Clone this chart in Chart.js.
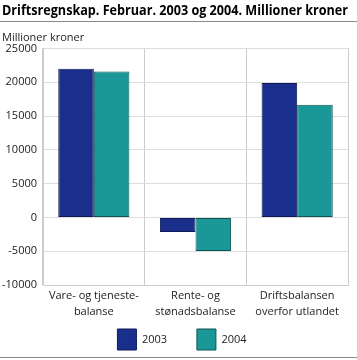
<!DOCTYPE html>
<html><head><meta charset="utf-8">
<script src="https://cdn.jsdelivr.net/npm/chart.js@4"></script>
<style>html,body{margin:0;padding:0;background:#fff}#wrap{width:357px;height:360px}</style>
</head><body><div id="wrap"><canvas id="c" width="357" height="360"></canvas></div>
<script>
const categories = [["Vare- og tjeneste-","balanse"],["Rente- og","stønadsbalanse"],["Driftsbalansen","overfor utlandet"]];
const series2003 = [22000, -2150, 19900];
const series2004 = [21600, -4950, 16650];
const seriesNames = ["2003","2004"];
const titleText = "Driftsregnskap. Februar. 2003 og 2004. Millioner kroner";
const unitText = "Millioner kroner";
const FONT = "'Open Sans', sans-serif";

const deco = {
  id:'deco',
  afterLayout(chart){
    if (chart.legend) { chart.legend.left += 14; }
  },
  afterDraw(chart){
    const ctx = chart.ctx;
    ctx.save();
    ctx.strokeStyle = '#8a8a8a';
    ctx.lineWidth = 1;
    ctx.beginPath(); ctx.moveTo(0,21.5); ctx.lineTo(357,21.5); ctx.stroke();
    ctx.beginPath(); ctx.moveTo(0,357.5); ctx.lineTo(357,357.5); ctx.stroke();
    ctx.restore();
  }
};

new Chart(document.getElementById('c'), {
  type:'bar',
  data:{
    labels: categories,
    datasets:[
      {label:seriesNames[0], data:series2003, backgroundColor:'#1a2f8c', borderColor:'#0e1a55', borderWidth:1, borderSkipped:false},
      {label:seriesNames[1], data:series2004, backgroundColor:'#1a9797', borderColor:'#0d5555', borderWidth:1, borderSkipped:false}
    ]
  },
  options:{
    responsive:false,
    animation:false,
    devicePixelRatio:1,
    layout:{padding:{left:2,right:9,top:0,bottom:0}},
    datasets:{bar:{categoryPercentage:0.7,barPercentage:1.0}},
    plugins:{
      title:{display:true,text:titleText,align:'start',color:'#000',font:{family:FONT,size:13.5,weight:'bold'},padding:{top:3,bottom:12}},
      subtitle:{display:true,text:unitText,align:'start',color:'#222',font:{family:FONT,size:11},padding:{top:0,bottom:4}},
      legend:{position:'bottom',labels:{color:'#222',font:{family:FONT,size:11},boxWidth:19,boxHeight:21,padding:6,useBorderRadius:false,
        generateLabels(chart){
          const items = Chart.defaults.plugins.legend.labels.generateLabels(chart);
          items.forEach((it,i)=>{ if(i===0) it.text = it.text + '\u2003\u2003\u2009'; });
          return items;
        }}
      },
      tooltip:{enabled:false}
    },
    scales:{
      x:{
        grid:{color:'#cccccc',offset:true,drawTicks:false},
        border:{color:'#cccccc'},
        ticks:{color:'#222',font:{family:FONT,size:11,lineHeight:1.45},padding:3,maxRotation:0,autoSkip:false}
      },
      y:{
        min:-10000,max:25000,
        grid:{color:'#dddddd',drawTicks:false},
        border:{color:'#cccccc'},
        afterFit(scale){ scale.width = 41; },
        ticks:{stepSize:5000,color:'#222',font:{family:FONT,size:11},padding:6,callback:v=>String(v)}
      }
    }
  },
  plugins:[deco]
});
</script></body></html>
